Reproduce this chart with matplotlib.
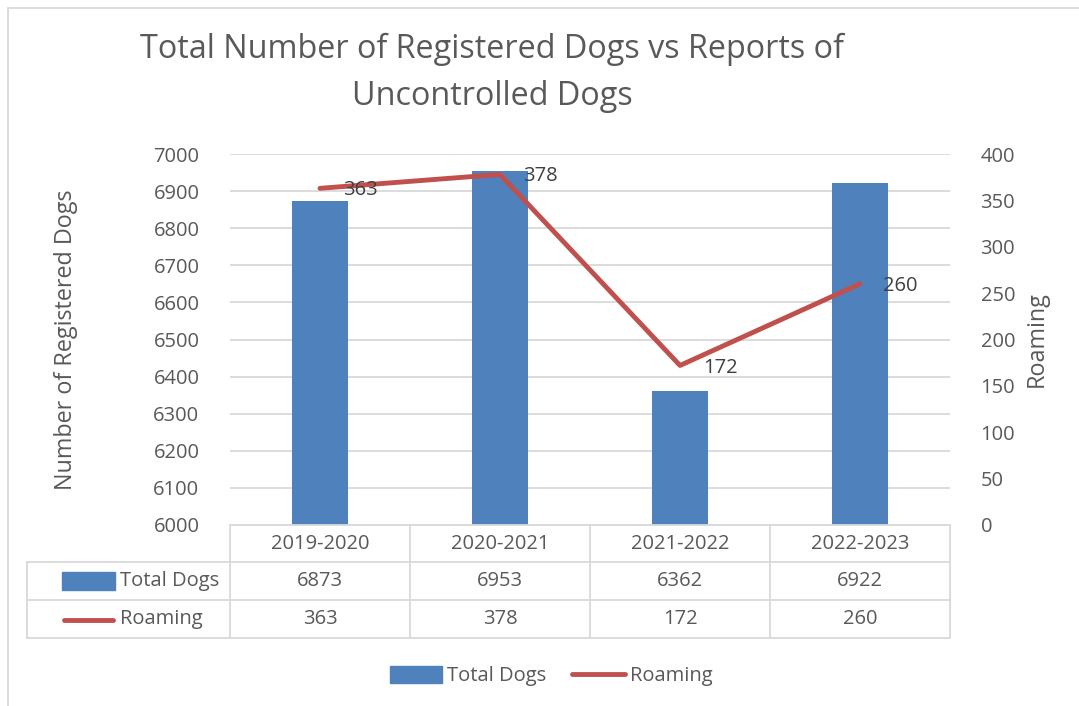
import matplotlib
matplotlib.use('Agg')
import matplotlib.pyplot as plt
from matplotlib.lines import Line2D
from matplotlib.patches import Patch, Rectangle

plt.rcParams['font.family'] = ['Open Sans', 'DejaVu Sans']

seasons = ['2019-2020', '2020-2021', '2021-2022', '2022-2023']
total_dogs = [6873, 6953, 6362, 6922]
roaming = [363, 378, 172, 260]

BLUE = '#4F81BD'
RED = '#C0504D'
GREY_TXT = '#595959'
GRID = '#D9D9D9'

W, H = 1079, 706
fig = plt.figure(figsize=(W / 100, H / 100), dpi=100)

# axes box in pixels: left 230, right 950, top 154, bottom 525
L, R, T, B = 230, 950, 154, 525
ax = fig.add_axes([L / W, 1 - B / H, (R - L) / W, (B - T) / H])

x = list(range(len(seasons)))
ax.bar(x, total_dogs, width=0.315, color=BLUE, zorder=2)
ax.set_xlim(-0.5, len(seasons) - 0.5)
ax.set_ylim(6000, 7000)
ax.set_yticks(range(6000, 7001, 100))
ax.grid(axis='y', color=GRID, lw=1.3, zorder=0)
ax.set_xticks([])
for s in ax.spines.values():
    s.set_visible(False)
ax.tick_params(axis='y', length=0, labelsize=14.5, labelcolor=GREY_TXT, pad=22)
ax.set_ylabel('Number of Registered Dogs', fontsize=16.8, color=GREY_TXT, labelpad=54)

ax2 = ax.twinx()
ax2.plot(x, roaming, color=RED, lw=3.5, solid_capstyle='round', zorder=3)
ax2.set_ylim(0, 400)
ax2.set_yticks(range(0, 401, 50))
for s in ax2.spines.values():
    s.set_visible(False)
ax2.tick_params(axis='y', length=0, labelsize=14.5, labelcolor=GREY_TXT, pad=22)
ax2.set_ylabel('Roaming', fontsize=16.8, color=GREY_TXT, labelpad=7)
for i, v in enumerate(roaming):
    ax2.annotate(str(v), (i, v), xytext=(16.5, -1.5), textcoords='offset points',
                 va='center', ha='left', fontsize=14.5, color='#404040')

# data table below the axes
def ay(py):
    return (B - py) / (B - T)

def axx(px):
    return (px - L) / (R - L)

tr = ax.get_xaxis_transform()
rows_y = [525, 562, 600, 638]
for py in rows_y:
    x0 = axx(L) if py == 525 else axx(27)
    ax.add_line(Line2D([x0, 1], [ay(py), ay(py)], transform=ax.transAxes,
                       color=GRID, lw=1.3, clip_on=False))
for k in range(len(seasons) + 1):
    ax.add_line(Line2D([k - 0.5, k - 0.5], [ay(525), ay(638)], transform=tr,
                       color=GRID, lw=1.3, clip_on=False))
ax.add_line(Line2D([axx(27), axx(27)], [ay(562), ay(638)], transform=ax.transAxes,
                   color=GRID, lw=1.3, clip_on=False))

for i in x:
    ax.text(i, ay(544), seasons[i], transform=tr, ha='center', va='center',
            fontsize=14.5, color=GREY_TXT)
    ax.text(i, ay(581), str(total_dogs[i]), transform=tr, ha='center', va='center',
            fontsize=14.5, color=GREY_TXT)
    ax.text(i, ay(619), str(roaming[i]), transform=tr, ha='center', va='center',
            fontsize=14.5, color=GREY_TXT)

ax.add_patch(Rectangle((axx(62), ay(590)), axx(115) - axx(62), ay(572) - ay(590),
                       transform=ax.transAxes, color=BLUE, clip_on=False))
ax.text(axx(120), ay(581), 'Total Dogs', transform=ax.transAxes, ha='left', va='center',
        fontsize=14.5, color=GREY_TXT)
ax.add_line(Line2D([axx(64), axx(113)], [ay(620), ay(620)], transform=ax.transAxes,
                   color=RED, lw=3.5, solid_capstyle='round', clip_on=False))
ax.text(axx(120), ay(619), 'Roaming', transform=ax.transAxes, ha='left', va='center',
        fontsize=14.5, color=GREY_TXT)

# bottom legend
handles = [Patch(color=BLUE, label='Total Dogs'),
           Line2D([], [], color=RED, lw=3.5, solid_capstyle='round', label='Roaming')]
fig.legend(handles=handles, loc='center', bbox_to_anchor=(551 / W, 1 - 676 / H), ncol=2,
           frameon=False, fontsize=14.5, handlelength=2.6, handleheight=0.9,
           handletextpad=0.25, columnspacing=1.3, labelcolor=GREY_TXT)

fig.text(492 / W, 1 - 73 / H, 'Total Number of Registered Dogs vs Reports of\nUncontrolled Dogs',
         ha='center', va='center', fontsize=23.3, color=GREY_TXT, linespacing=1.55)

# chart frame
fig.add_artist(Rectangle((8 / W, -0.1), 1.2, 1 - 8 / H + 0.1, transform=fig.transFigure,
                         fill=False, edgecolor=GRID, lw=1.3))

fig.savefig('out.png', dpi=100)
